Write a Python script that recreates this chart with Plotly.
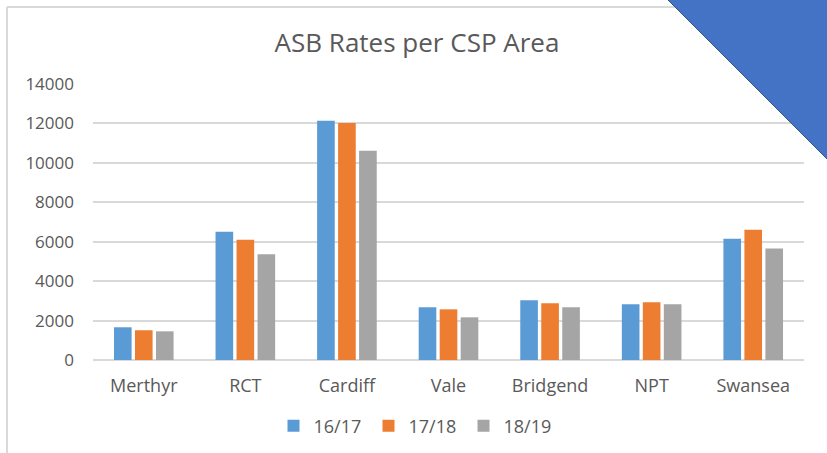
import plotly.graph_objects as go

# ASB rates per CSP area
areas = ["Merthyr", "RCT", "Cardiff", "Vale", "Bridgend", "NPT", "Swansea"]
rates_1617 = [1660, 6510, 12140, 2670, 3030, 2825, 6155]
rates_1718 = [1510, 6100, 12020, 2570, 2875, 2925, 6610]
rates_1819 = [1455, 5360, 10620, 2165, 2670, 2825, 5650]
year_labels = ["16/17", "17/18", "18/19"]
y_ticks = [0, 2000, 4000, 6000, 8000, 10000, 12000, 14000]

COLORS = ["#5B9BD5", "#ED7D31", "#A5A5A5"]
TEXT = "#595959"
GRID = "#D9D9D9"
FONT = "Open Sans, sans-serif"

W, H = 827, 453
L, R, T, B = 93, 23, 84, 93
pw, ph = W - L - R, H - T - B


def px(x):
    return (x - L) / pw


def py(y):
    return (H - B - y) / ph


fig = go.Figure()
for name, vals, color in zip(year_labels, [rates_1617, rates_1718, rates_1819], COLORS):
    fig.add_trace(go.Bar(x=areas, y=vals, name=name, marker=dict(color=color, line=dict(width=0))))

shapes = [
    # chart frame (left and top edges)
    dict(type="line", xref="paper", yref="paper", x0=px(7), x1=px(7), y0=py(7), y1=py(H + 5),
         line=dict(color=GRID, width=2)),
    dict(type="line", xref="paper", yref="paper", x0=px(7), x1=px(680), y0=py(7), y1=py(7),
         line=dict(color=GRID, width=2)),
    # blue corner triangle
    dict(type="path", xref="paper", yref="paper",
         path=f"M {px(667)},{py(-1)} L {px(W + 1)},{py(-1)} L {px(W + 1)},{py(160)} Z",
         fillcolor="#4472C4", line=dict(color="#2F528F", width=1)),
]

fig.update_layout(
    width=W, height=H,
    margin=dict(l=L, r=R, t=T, b=B, autoexpand=False),
    paper_bgcolor="white", plot_bgcolor="white",
    font=dict(family=FONT, color=TEXT, size=17),
    title=dict(text="ASB Rates per CSP Area", x=417 / W, xanchor="center",
               y=1 - 43 / H, yanchor="middle", font=dict(size=26, color=TEXT, family=FONT)),
    barmode="group", bargap=0.38, bargroupgap=0.16,
    xaxis=dict(showgrid=False, showline=False, ticks="", tickfont=dict(size=18, color=TEXT),
               ticklabelstandoff=13, automargin=False),
    yaxis=dict(range=[0, 14000], tickvals=y_ticks, tickformat="d", showgrid=True,
               gridcolor=GRID, gridwidth=1.5, zeroline=True, zerolinecolor=GRID,
               zerolinewidth=1.5, showline=False, tickfont=dict(size=17, color=TEXT),
               ticks="", ticklabelstandoff=18, automargin=False),
    legend=dict(orientation="h", x=416 / W, xref="container", xanchor="center",
                y=1 - 426 / H, yref="container", yanchor="middle",
                font=dict(size=18, color=TEXT), itemwidth=30, entrywidth=50,
                traceorder="normal"),
    shapes=shapes,
)

fig.write_html("out.html", config={"displayModeBar": False},
               post_script="document.body.style.margin='0';")
